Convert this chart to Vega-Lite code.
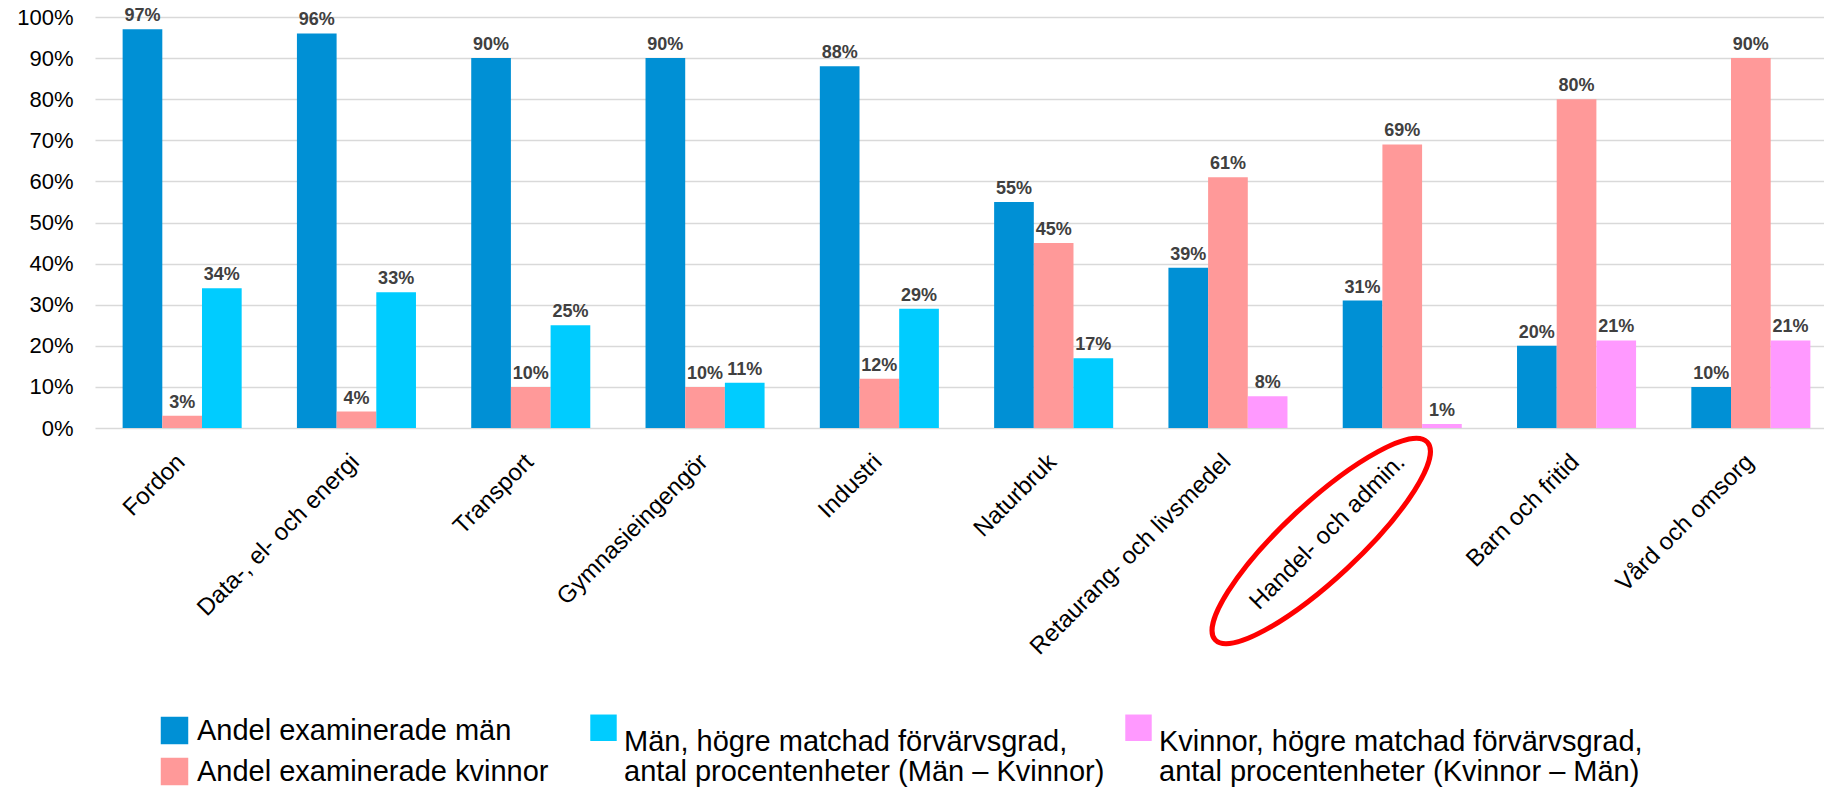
{
  "$schema": "https://vega.github.io/schema/vega-lite/v6.json",
  "width": 1729,
  "height": 411,
  "autosize": {"type": "none"},
  "padding": {"left": 95, "top": 17, "right": 0, "bottom": 361},
  "background": "white",
  "config": {
    "view": {"stroke": null},
    "font": "Liberation Sans",
    "style": {"guide-label": {"lineHeight": 30}}
  },
  "datasets": {
    "bars": [
      {"k": "Fordon", "g": "Andel examinerade män", "s": "1", "v": 0.97},
      {"k": "Fordon", "g": "Andel examinerade kvinnor", "s": "2", "v": 0.03},
      {"k": "Fordon", "g": "Män, högre matchad förvärvsgrad,|antal procentenheter (Män – Kvinnor)", "s": "3", "v": 0.34},
      {"k": "Data-, el- och energi", "g": "Andel examinerade män", "s": "1", "v": 0.96},
      {"k": "Data-, el- och energi", "g": "Andel examinerade kvinnor", "s": "2", "v": 0.04},
      {"k": "Data-, el- och energi", "g": "Män, högre matchad förvärvsgrad,|antal procentenheter (Män – Kvinnor)", "s": "3", "v": 0.33},
      {"k": "Transport", "g": "Andel examinerade män", "s": "1", "v": 0.90},
      {"k": "Transport", "g": "Andel examinerade kvinnor", "s": "2", "v": 0.10},
      {"k": "Transport", "g": "Män, högre matchad förvärvsgrad,|antal procentenheter (Män – Kvinnor)", "s": "3", "v": 0.25},
      {"k": "Gymnasieingengör", "g": "Andel examinerade män", "s": "1", "v": 0.90},
      {"k": "Gymnasieingengör", "g": "Andel examinerade kvinnor", "s": "2", "v": 0.10},
      {"k": "Gymnasieingengör", "g": "Män, högre matchad förvärvsgrad,|antal procentenheter (Män – Kvinnor)", "s": "3", "v": 0.11},
      {"k": "Industri", "g": "Andel examinerade män", "s": "1", "v": 0.88},
      {"k": "Industri", "g": "Andel examinerade kvinnor", "s": "2", "v": 0.12},
      {"k": "Industri", "g": "Män, högre matchad förvärvsgrad,|antal procentenheter (Män – Kvinnor)", "s": "3", "v": 0.29},
      {"k": "Naturbruk", "g": "Andel examinerade män", "s": "1", "v": 0.55},
      {"k": "Naturbruk", "g": "Andel examinerade kvinnor", "s": "2", "v": 0.45},
      {"k": "Naturbruk", "g": "Män, högre matchad förvärvsgrad,|antal procentenheter (Män – Kvinnor)", "s": "3", "v": 0.17},
      {"k": "Retaurang- och livsmedel", "g": "Andel examinerade män", "s": "1", "v": 0.39},
      {"k": "Retaurang- och livsmedel", "g": "Andel examinerade kvinnor", "s": "2", "v": 0.61},
      {"k": "Retaurang- och livsmedel", "g": "Kvinnor, högre matchad förvärvsgrad,|antal procentenheter (Kvinnor – Män)", "s": "3", "v": 0.077},
      {"k": "Handel- och admin.", "g": "Andel examinerade män", "s": "1", "v": 0.31},
      {"k": "Handel- och admin.", "g": "Andel examinerade kvinnor", "s": "2", "v": 0.69},
      {"k": "Handel- och admin.", "g": "Kvinnor, högre matchad förvärvsgrad,|antal procentenheter (Kvinnor – Män)", "s": "3", "v": 0.01},
      {"k": "Barn och fritid", "g": "Andel examinerade män", "s": "1", "v": 0.20},
      {"k": "Barn och fritid", "g": "Andel examinerade kvinnor", "s": "2", "v": 0.80},
      {"k": "Barn och fritid", "g": "Kvinnor, högre matchad förvärvsgrad,|antal procentenheter (Kvinnor – Män)", "s": "3", "v": 0.213},
      {"k": "Vård och omsorg", "g": "Andel examinerade män", "s": "1", "v": 0.10},
      {"k": "Vård och omsorg", "g": "Andel examinerade kvinnor", "s": "2", "v": 0.90},
      {"k": "Vård och omsorg", "g": "Kvinnor, högre matchad förvärvsgrad,|antal procentenheter (Kvinnor – Män)", "s": "3", "v": 0.213}
    ],
    "mark": [{"k": "Handel- och admin."}]
  },
  "encoding": {
    "x": {
      "field": "k",
      "type": "nominal",
      "sort": null,
      "scale": {"range": [0, 1743], "paddingInner": 0.317, "paddingOuter": 0.1585},
      "axis": {
        "title": null,
        "domain": false,
        "ticks": false,
        "labelAngle": -45,
        "labelAlign": "right",
        "labelBaseline": "alphabetic",
        "labelFontSize": 24,
        "labelColor": "#000000",
        "labelPadding": 35,
        "labelOffset": 4,
        "labelLimit": 500
      }
    }
  },
  "layer": [
    {
      "data": {"name": "bars"},
      "transform": [{"filter": "datum.s != '3'"}],
      "mark": {"type": "bar"},
      "encoding": {
        "xOffset": {"field": "s", "type": "nominal", "scale": {"domain": ["1", "2", "3"], "paddingInner": 0, "paddingOuter": 0}},
        "y": {
          "field": "v",
          "type": "quantitative",
          "scale": {"domain": [0, 1], "nice": false},
          "axis": {
            "title": null,
            "values": [0, 0.1, 0.2, 0.3, 0.4, 0.5, 0.6, 0.7, 0.8, 0.9, 1],
            "format": ".0%",
            "domain": false,
            "ticks": false,
            "gridColor": "#d9d9d9",
            "gridWidth": 1.5,
            "labelFontSize": 22,
            "labelColor": "#000000",
            "labelPadding": 22
          }
        },
        "color": {
          "field": "g",
          "type": "nominal",
          "scale": {"domain": ["Andel examinerade män", "Andel examinerade kvinnor"], "range": ["#0090D5", "#FF9999"]},
          "legend": {
            "orient": "none",
            "legendX": 65,
            "legendY": 699,
            "direction": "vertical",
            "title": null,
            "symbolType": "square",
            "symbolSize": 756,
            "symbolStrokeWidth": 0,
            "symbolOpacity": 1,
            "labelFontSize": 29,
            "labelColor": "#000000",
            "labelOffset": 8,
            "labelLimit": 600,
            "rowPadding": 11,
            "padding": 0
          }
        }
      }
    },
    {
      "data": {"name": "bars"},
      "transform": [{"filter": "datum.s == '3'"}],
      "mark": {"type": "bar"},
      "encoding": {
        "xOffset": {"field": "s", "type": "nominal"},
        "y": {"field": "v", "type": "quantitative"},
        "color": {
          "field": "g",
          "type": "nominal",
          "scale": {
            "domain": ["Män, högre matchad förvärvsgrad,|antal procentenheter (Män – Kvinnor)", "Kvinnor, högre matchad förvärvsgrad,|antal procentenheter (Kvinnor – Män)"],
            "range": ["#00CCFF", "#FF99FF"]
          },
          "legend": {
            "orient": "none",
            "legendX": 494,
            "legendY": 696,
            "direction": "horizontal",
            "title": null,
            "symbolType": "square",
            "symbolSize": 700,
            "symbolStrokeWidth": 0,
            "symbolOpacity": 1,
            "labelFontSize": 29,
            "labelColor": "#000000",
            "labelOffset": 6,
            "labelLimit": 700,
            "labelBaseline": "top",
            "labelExpr": "split(datum.label, '|')",
            "columnPadding": 19,
            "padding": 0
          }
        }
      }
    },
    {
      "data": {"name": "bars"},
      "mark": {"type": "text", "baseline": "alphabetic", "dy": -8, "fontSize": 18, "fontWeight": "bold", "color": "#404040"},
      "encoding": {
        "xOffset": {"field": "s", "type": "nominal"},
        "y": {"field": "v", "type": "quantitative"},
        "text": {"field": "v", "type": "quantitative", "format": ".0%"}
      }
    },
    {
      "data": {"name": "mark"},
      "mark": {
        "type": "point",
        "shape": "M -1 0 A 1 0.26 0 1 1 1 0 A 1 0.26 0 1 1 -1 0 Z",
        "size": 84100,
        "angle": 317,
        "filled": false,
        "stroke": "#FF0000",
        "strokeWidth": 5,
        "opacity": 1,
        "xOffset": -81,
        "yOffset": 113
      },
      "encoding": {
        "y": {"datum": 0, "type": "quantitative"}
      }
    }
  ],
  "resolve": {"scale": {"color": "independent"}}
}
